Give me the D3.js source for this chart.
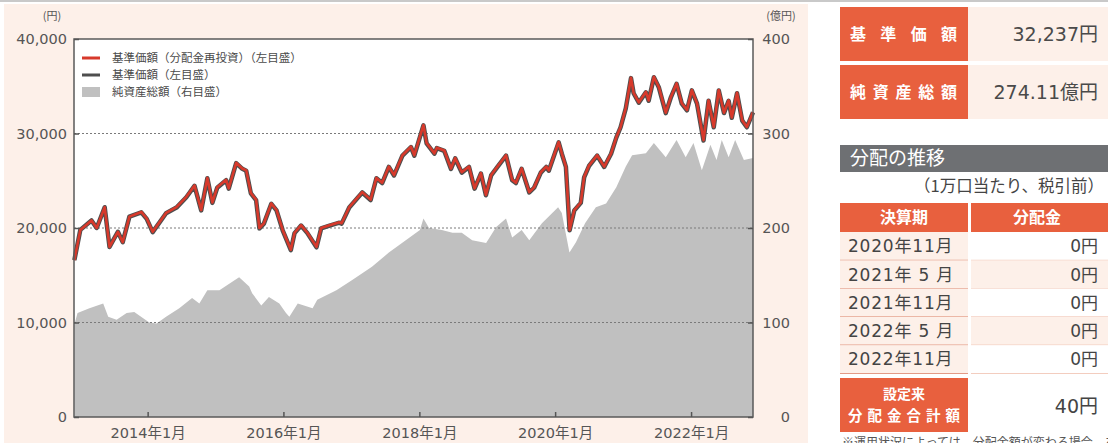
<!DOCTYPE html>
<html><head><meta charset="utf-8">
<script src="https://cdn.jsdelivr.net/npm/d3@7"></script>
<style>
body{margin:0;background:#fff;}
svg{display:block;font-family:"DejaVu Sans","Noto Sans CJK JP",sans-serif;}
</style></head>
<body><svg id="c" width="1108" height="443"></svg>
<script>
// ---------- data ----------
const priceDates = ["2012-12-03","2013-01-04","2013-03-05","2013-04-02","2013-05-15","2013-06-10","2013-07-25","2013-08-20","2013-09-25","2013-11-28",
"2013-12-27","2014-01-28","2014-04-10","2014-06-05","2014-07-28","2014-09-10","2014-10-16","2014-11-18","2014-12-15","2015-01-10",
"2015-02-27","2015-03-13","2015-04-22","2015-05-25","2015-06-15","2015-07-10","2015-08-07","2015-08-25","2015-09-18","2015-10-28",
"2015-11-25","2015-12-28","2016-02-10","2016-03-01","2016-04-05","2016-05-09","2016-06-27","2016-07-22","2016-09-05","2016-10-28",
"2016-11-09","2016-12-20","2017-02-28","2017-04-14","2017-05-15","2017-06-15","2017-07-21","2017-08-18","2017-10-02","2017-11-17",
"2017-12-05","2018-01-23","2018-02-09","2018-03-23","2018-04-05","2018-05-15","2018-06-20","2018-07-13","2018-08-17","2018-09-25",
"2018-10-25","2018-11-28","2018-12-25","2019-01-22","2019-02-25","2019-04-12","2019-05-15","2019-06-04","2019-07-05","2019-08-15",
"2019-09-10","2019-10-16","2019-11-14","2019-11-28","2020-01-20","2020-02-06","2020-02-28","2020-03-19","2020-04-13","2020-05-18",
"2020-06-05","2020-07-01","2020-08-14","2020-09-21","2020-10-28","2020-11-25","2020-12-18","2021-01-15","2021-02-12","2021-02-26",
"2021-03-26","2021-05-03","2021-05-18","2021-06-15","2021-07-12","2021-08-18","2021-09-15","2021-10-15","2021-11-12","2021-12-10",
"2022-01-05","2022-02-02","2022-03-09","2022-04-05","2022-05-03","2022-05-30","2022-06-27","2022-07-22","2022-08-08","2022-09-05",
"2022-10-03","2022-10-28","2022-11-30"];

const reinvestedNav = [16600,19800,20800,20000,22200,18000,19600,18500,21200,21700,
21000,19600,21600,22200,23300,24500,21900,25300,22700,24300,
25100,24200,26900,26300,26100,23700,23000,20000,20500,22600,
21900,19800,17700,19500,20300,19500,18000,20000,20300,20600,
20500,22200,23800,23000,25300,24800,26500,25600,27700,28600,
27700,30900,29000,27900,28500,28200,26300,27400,25900,26500,
24200,25800,23500,25600,26500,27700,25100,24800,26300,23800,
24300,25900,26500,26100,29100,27900,26500,19800,21900,22700,
25400,26600,27700,26500,27900,29600,30700,32700,35900,34300,
33300,34400,33500,36000,34900,32200,33900,35300,33200,32500,
34600,33200,29300,33500,30700,34600,32200,33500,31700,34300,
31400,30700,32280];

const nav = [16600,19800,20800,20000,22200,18000,19600,18500,21200,21660,
20960,19560,21560,22160,23260,24460,21860,25260,22660,24260,
25060,24160,26860,26260,26060,23660,22960,19960,20460,22560,
21860,19760,17660,19460,20260,19460,17960,19960,20260,20560,
20460,22160,23760,22960,25260,24760,26460,25560,27660,28560,
27660,30860,28960,27860,28460,28160,26260,27360,25860,26460,
24160,25760,23460,25560,26460,27660,25060,24760,26260,23760,
24260,25860,26460,26060,29060,27860,26460,19760,21860,22660,
25360,26560,27660,26460,27860,29560,30660,32660,35860,34260,
33260,34360,33460,35960,34860,32160,33860,35260,33160,32460,
34560,33160,29260,33460,30660,34560,32160,33460,31660,34260,
31360,30660,32237];

const assetDates = ["2012-12-03","2012-12-20","2013-02-22","2013-05-07","2013-06-03","2013-07-18","2013-09-10","2013-10-21","2014-01-10","2014-02-18",
"2014-04-10","2014-06-20","2014-08-28","2014-10-06","2014-11-18","2015-01-22","2015-04-01","2015-05-08","2015-07-01","2015-07-17",
"2015-09-04","2015-10-15","2015-12-10","2016-01-15","2016-02-02","2016-03-18","2016-06-06","2016-07-01","2016-10-12","2017-01-05",
"2017-04-21","2017-07-21","2017-10-20","2018-01-04","2018-01-23","2018-02-22","2018-05-02","2018-06-28","2018-08-17","2018-10-12",
"2018-12-26","2019-02-18","2019-04-12","2019-05-15","2019-07-05","2019-08-15","2019-10-22","2020-01-17","2020-02-06","2020-03-18",
"2020-04-22","2020-06-10","2020-08-07","2020-10-01","2020-11-25","2021-01-15","2021-02-18","2021-05-03","2021-06-15","2021-08-18",
"2021-10-15","2021-12-03","2022-01-14","2022-02-28","2022-04-15","2022-05-18","2022-06-15","2022-07-22","2022-08-26","2022-10-12",
"2022-11-30"];
const netAssets = [98,110,115,120,106,103,110,111,100,99,
106,115,126,120,134,134,143,148,138,131,
118,127,120,110,106,120,115,124,134,145,
159,174,187,198,210,200,198,195,195,187,
184,201,210,190,198,187,205,222,216,174,
185,205,222,226,243,265,277,279,290,275,
293,275,290,261,288,272,293,275,293,272,
274.11];

const leftTicks = [0,10000,20000,30000,40000];
const rightTicks = [0,100,200,300,400];
const xTickYears = [2014,2016,2018,2020,2022];
const legendLabels = ["基準価額（分配金再投資）（左目盛）","基準価額（左目盛）","純資産総額（右目盛）"];

const summaryLabels = ["基準価額","純資産総額"];
const summaryValues = ["32,237円","274.11億円"];
const settlementPeriods = ["2020年11月","2021年 5 月","2021年11月","2022年 5 月","2022年11月"];
const distributions = ["0円","0円","0円","0円","0円"];
const totalLabel = ["設定来","分配金合計額"];
const totalValue = "40円";

// ---------- drawing ----------
const svg = d3.select("#c");
const parse = d3.timeParse("%Y-%m-%d");
const RED = "#d7392b", DARK = "#4e4e4e", GRAY = "#c0c0c0", ORANGE = "#e8603e", PINK = "#fdf0e9";
const CJK = '"Noto Sans CJK JP",sans-serif';

svg.append("rect").attr("x",0).attr("y",0).attr("width",1108).attr("height",2).attr("fill","#c9c9c9");
svg.append("rect").attr("x",4).attr("y",4).attr("width",804).attr("height",439).attr("fill",PINK);

const L = 74, R = 753, T = 39, B = 417;
const x = d3.scaleTime().domain([new Date(2012,11,1), new Date(2022,10,30)]).range([L,R]);
const yL = d3.scaleLinear().domain([0,40000]).range([B,T]);
const yR = d3.scaleLinear().domain([0,400]).range([B,T]);

svg.append("rect").attr("x",L).attr("y",T).attr("width",R-L).attr("height",B-T).attr("fill","#fff");

const assets = assetDates.map((d,i)=>({d:parse(d),v:netAssets[i]}));
const prices = priceDates.map((d,i)=>({d:parse(d),r:reinvestedNav[i],n:nav[i]}));

svg.append("path").datum(assets)
  .attr("d", d3.area().x(p=>x(p.d)).y0(yR(0)).y1(p=>yR(p.v)))
  .attr("fill", GRAY);

// grid
svg.append("g").selectAll("line").data(leftTicks.filter(t=>t>0 && t<40000)).join("line")
  .attr("x1",L).attr("x2",R).attr("y1",d=>yL(d)).attr("y2",d=>yL(d))
  .attr("stroke","#7a7a7a").attr("stroke-width",1).attr("stroke-dasharray","2,2");

svg.append("path").datum(prices)
  .attr("d", d3.line().x(p=>x(p.d)).y(p=>yL(p.n)))
  .attr("fill","none").attr("stroke",DARK).attr("stroke-width",4.5).attr("stroke-linejoin","round");
svg.append("path").datum(prices)
  .attr("d", d3.line().x(p=>x(p.d)).y(p=>yL(p.r)))
  .attr("fill","none").attr("stroke",RED).attr("stroke-width",2.6).attr("stroke-linejoin","round");

// frame
svg.append("rect").attr("x",L).attr("y",T).attr("width",R-L).attr("height",B-T)
  .attr("fill","none").attr("stroke","#5a5a5a").attr("stroke-width",1.5);

// axes
const axisStyle = g => {
  g.select(".domain").remove();
  g.selectAll(".tick line").attr("stroke","#555").attr("stroke-width",1.5);
  g.selectAll("text").attr("fill","#555").style("font-size","14.5px").style("font-family",'"DejaVu Sans","Noto Sans CJK JP",sans-serif');
};
svg.append("g").attr("transform",`translate(${L},0)`)
  .call(d3.axisLeft(yL).tickValues(leftTicks).tickFormat(d3.format(",")).tickSizeInner(-5).tickSizeOuter(0).tickPadding(7))
  .call(axisStyle);
svg.append("g").attr("transform",`translate(${R},0)`)
  .call(d3.axisRight(yR).tickValues(rightTicks).tickSizeInner(-5).tickSizeOuter(0).tickPadding(9))
  .call(axisStyle)
  .call(g=>g.selectAll("text").attr("text-anchor","end").attr("x",37));
svg.append("g").attr("transform",`translate(0,${B})`)
  .call(d3.axisBottom(x).tickValues(xTickYears.map(y=>new Date(y,0,1))).tickFormat(d=>d.getFullYear()+"年1月").tickSizeInner(-5).tickSizeOuter(0).tickPadding(11))
  .call(axisStyle);

svg.append("text").attr("x",52).attr("y",20).attr("text-anchor","middle").attr("fill","#555").style("font-size","11px").style("font-family",CJK).text("(円)");
svg.append("text").attr("x",781).attr("y",20).attr("text-anchor","middle").attr("fill","#555").style("font-size","11px").style("font-family",CJK).text("(億円)");

// legend
const lg = svg.append("g");
const legY = [58,75,92];
lg.append("line").attr("x1",82).attr("x2",100).attr("y1",legY[0]).attr("y2",legY[0]).attr("stroke",RED).attr("stroke-width",3);
lg.append("line").attr("x1",82).attr("x2",100).attr("y1",legY[1]).attr("y2",legY[1]).attr("stroke",DARK).attr("stroke-width",3);
lg.append("rect").attr("x",82).attr("y",legY[2]-5).attr("width",18).attr("height",10).attr("fill",GRAY);
lg.selectAll("text").data(legendLabels).join("text")
  .attr("x",112).attr("y",(d,i)=>legY[i]).attr("dy","0.36em")
  .attr("fill","#4a4a4a").style("font-size","11.5px").style("font-family",CJK).text(d=>d);

// ---------- right panel ----------
const P = svg.append("g").style("font-family",'"DejaVu Sans","Noto Sans CJK JP",sans-serif');
const boxY = [7,65], boxH = 54;
summaryLabels.forEach((lab,i)=>{
  P.append("rect").attr("x",840).attr("y",boxY[i]).attr("width",128).attr("height",boxH).attr("fill",ORANGE);
  P.append("rect").attr("x",968).attr("y",boxY[i]).attr("width",140).attr("height",boxH).attr("fill",PINK);
  P.append("text").attr("x",850).attr("y",boxY[i]+boxH/2).attr("dy","0.36em")
    .attr("textLength",107).attr("lengthAdjust","spacing")
    .attr("fill","#fff").style("font-size","16px").style("font-weight","bold").style("font-family",CJK).text(lab);
  P.append("text").attr("x",1098).attr("y",boxY[i]+boxH/2).attr("dy","0.36em").attr("text-anchor","end")
    .attr("fill","#4a4a4a").style("font-size","19px").text(summaryValues[i]);
});

P.append("rect").attr("x",840).attr("y",145).attr("width",268).attr("height",27).attr("fill","#6e7073");
P.append("text").attr("x",850).attr("y",158.5).attr("dy","0.36em").attr("fill","#fff")
  .style("font-size","19px").style("font-family",CJK).text("分配の推移");
P.append("text").attr("x",914).attr("y",186).attr("dy","0.36em").attr("fill","#444")
  .style("font-size","16.5px").style("font-family",CJK).text("（1万口当たり、税引前）");

// table header
P.append("rect").attr("x",840).attr("y",203).attr("width",128).attr("height",29).attr("fill",ORANGE);
P.append("rect").attr("x",971).attr("y",203).attr("width",137).attr("height",29).attr("fill",ORANGE);
P.append("text").attr("x",904).attr("y",217.5).attr("dy","0.36em").attr("text-anchor","middle").attr("fill","#fff")
  .style("font-size","16px").style("font-weight","bold").style("font-family",CJK).text("決算期");
P.append("text").attr("x",1037).attr("y",217.5).attr("dy","0.36em").attr("text-anchor","middle").attr("fill","#fff")
  .style("font-size","16px").style("font-weight","bold").style("font-family",CJK).text("分配金");

const rowY0 = 232, rowH = 28.3;
settlementPeriods.forEach((p,i)=>{
  const y0 = rowY0 + i*rowH;
  P.append("rect").attr("x",840).attr("y",y0).attr("width",128).attr("height",rowH).attr("fill",PINK);
  P.append("rect").attr("x",971).attr("y",y0).attr("width",137).attr("height",rowH).attr("fill", i%2 ? PINK : "#fff");
  P.append("line").attr("x1",840).attr("x2",968).attr("y1",y0+rowH).attr("y2",y0+rowH).attr("stroke","#e39a86").attr("stroke-width",1.2);
  P.append("line").attr("x1",971).attr("x2",1108).attr("y1",y0+rowH).attr("y2",y0+rowH).attr("stroke","#f3cdbf").attr("stroke-width",1.2);
  P.append("text").attr("x",848).attr("y",y0+rowH/2).attr("dy","0.36em").attr("fill","#444")
    .style("font-size","17px").style("letter-spacing","0.8px").text(p);
  P.append("text").attr("x",1098).attr("y",y0+rowH/2).attr("dy","0.36em").attr("text-anchor","end").attr("fill","#444")
    .style("font-size","17px").text(distributions[i]);
});
// total row
P.append("rect").attr("x",840).attr("y",378).attr("width",128).attr("height",54).attr("fill",ORANGE);
P.append("rect").attr("x",971).attr("y",378).attr("width",137).attr("height",54).attr("fill","#fff");
P.append("text").attr("x",904).attr("y",394).attr("dy","0.36em").attr("text-anchor","middle").attr("fill","#fff")
  .style("font-size","14px").style("font-weight","bold").style("font-family",CJK).text(totalLabel[0]);
P.append("text").attr("x",848).attr("y",416).attr("dy","0.36em").attr("textLength",112).attr("lengthAdjust","spacing").attr("fill","#fff")
  .style("font-size","14.5px").style("font-weight","bold").style("font-family",CJK).text(totalLabel[1]);
P.append("text").attr("x",1098).attr("y",406).attr("dy","0.36em").attr("text-anchor","end").attr("fill","#444")
  .style("font-size","19px").text(totalValue);
P.append("text").attr("x",842).attr("y",447).attr("fill","#555").style("font-size","12px")
  .style("font-family",CJK).text("※運用状況によっては、分配金額が変わる場合、あるいは分配金が支払われない場合があります。");
</script></body></html>
